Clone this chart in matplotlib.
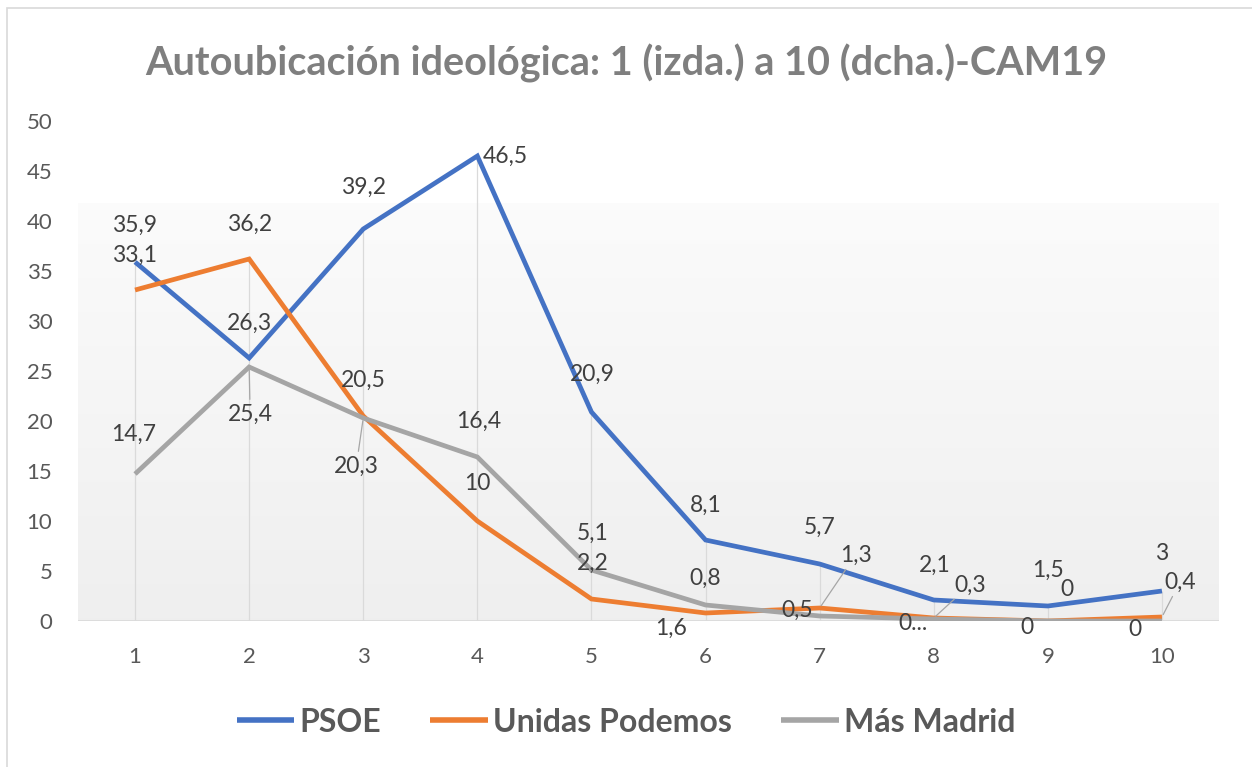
import matplotlib
matplotlib.use("Agg")
import matplotlib.pyplot as plt
import numpy as np
from matplotlib.patches import Rectangle

# ---- data ----
categories = [1, 2, 3, 4, 5, 6, 7, 8, 9, 10]
psoe = [35.9, 26.3, 39.2, 46.5, 20.9, 8.1, 5.7, 2.1, 1.5, 3]
podemos = [33.1, 36.2, 20.5, 10, 2.2, 0.8, 1.3, 0.3, 0, 0.4]
mas_madrid = [14.7, 25.4, 20.3, 16.4, 5.1, 1.6, 0.5, 0.2, 0, 0]
psoe_labels = ["35,9", "26,3", "39,2", "46,5", "20,9", "8,1", "5,7", "2,1", "1,5", "3"]
podemos_labels = ["33,1", "36,2", "20,5", "10", "2,2", "0,8", "1,3", "0,3", "0", "0,4"]
mm_labels = ["14,7", "25,4", "20,3", "16,4", "5,1", "1,6", "0,5", "0...", "0", "0"]
yticks = [0, 5, 10, 15, 20, 25, 30, 35, 40, 45, 50]
title = "Autoubicación ideológica: 1 (izda.) a 10 (dcha.)-CAM19"
series_names = ["PSOE", "Unidas Podemos", "Más Madrid"]

# ---- style ----
colors = ["#4472C4", "#ED7D31", "#A5A5A5"]
W, H = 1252, 767
DPI = 100
label_font = "Lato"

# label offsets in pixels (dx, dy downwards), and whether a leader line is drawn
psoe_off = [(-1, -37), (0, -35), (0, -42), (28, 0), (1, -38), (0, -35), (0, -37), (1, -35), (0, -36), (0, -38)]
pod_off = [(-1, -35), (0, -35), (0, -36), (0, -37), (1, -36), (0, -35), (36, -53), (36, -33), (19, -31), (18, -35)]
mm_off = [(-1, -40), (1, 47), (-7, 48), (1, -36), (1, -37), (-35, 23), (-22, -6), (-21, 4), (-21, 6), (-27, 9)]
pod_leader = [False, False, False, False, False, False, True, True, False, True]
mm_leader = [False, True, True, False, False, False, False, False, False, False]

fig = plt.figure(figsize=(W / DPI, H / DPI), dpi=DPI)
fig.patch.set_facecolor("white")

# outer chart border (right/bottom edges fall outside the image)
fig.patches.append(Rectangle((7 / W, 1 - 775 / H), (1262 - 7) / W, (775 - 8) / H,
                             transform=fig.transFigure, fill=False,
                             edgecolor="#d9d9d9", lw=1.2))

left, right, top, bottom = 78, 1219, 121, 621
ax = fig.add_axes([left / W, 1 - bottom / H, (right - left) / W, (bottom - top) / H])

# gradient plot background
grad_top = 41.8
grad = np.linspace(0, 1, 256).reshape(-1, 1)
c_top = np.array([0.985, 0.985, 0.985])
c_bot = np.array([0.937, 0.937, 0.937])
img = c_bot[None, None, :] * (1 - grad[:, :, None]) + c_top[None, None, :] * grad[:, :, None]
ax.imshow(img, extent=[0.5, 10.5, 0, grad_top], aspect="auto", origin="lower", zorder=0)
ax.set_xlim(0.5, 10.5)
ax.set_ylim(0, 50)

for s in ax.spines.values():
    s.set_visible(False)
ax.axhline(0, color="#d9d9d9", lw=1.2, zorder=1)

# drop lines
maxv = [max(a, b, c) for a, b, c in zip(psoe, podemos, mas_madrid)]
ax.vlines(categories, 0, maxv, color="#dadada", lw=0.9, zorder=1)

series = [psoe, podemos, mas_madrid]
for vals, col, name in zip(series, colors, series_names):
    ax.plot(categories, vals, color=col, lw=3.4, solid_joinstyle="miter",
            solid_capstyle="butt", label=name, zorder=3)

pt = 72 / DPI


def put_labels(vals, labels, offs, leaders):
    for x, v, lab, (dx, dy), ld in zip(categories, vals, labels, offs, leaders):
        kw = {}
        if ld:
            kw["arrowprops"] = dict(arrowstyle="-", color="#a6a6a6", lw=0.9,
                                    shrinkA=1, shrinkB=2)
        ax.annotate(lab, (x, v), xytext=(dx * pt, -dy * pt), textcoords="offset points",
                    ha="center", va="center", fontsize=16.5, family=label_font,
                    color="#404040", zorder=5, annotation_clip=False, **kw)


put_labels(psoe, psoe_labels, psoe_off, [False] * 10)
put_labels(podemos, podemos_labels, pod_off, pod_leader)
put_labels(mas_madrid, mm_labels, mm_off, mm_leader)

ax.set_xticks(categories)
ax.set_xticklabels([str(c) for c in categories])
ax.set_yticks(yticks)
ax.tick_params(length=0, colors="#595959", labelsize=16)
ax.tick_params(axis="y", pad=18.5)
ax.tick_params(axis="x", pad=19)
for t in ax.get_xticklabels() + ax.get_yticklabels():
    t.set_family(label_font)

fig.text(0.5, 1 - 63 / H, title, ha="center", va="center", fontsize=28.5,
         fontweight="bold", family=label_font, color="#7f7f7f")

leg = fig.legend(loc="center", bbox_to_anchor=(0.5, 1 - 722 / H), ncol=3,
                 frameon=False, handlelength=1.8, columnspacing=1.55,
                 handletextpad=0.16,
                 prop=dict(family=label_font, weight="bold", size=23))
for t in leg.get_texts():
    t.set_color("#595959")
for l in leg.get_lines():
    l.set_linewidth(4)

fig.savefig("out.png", dpi=DPI)
